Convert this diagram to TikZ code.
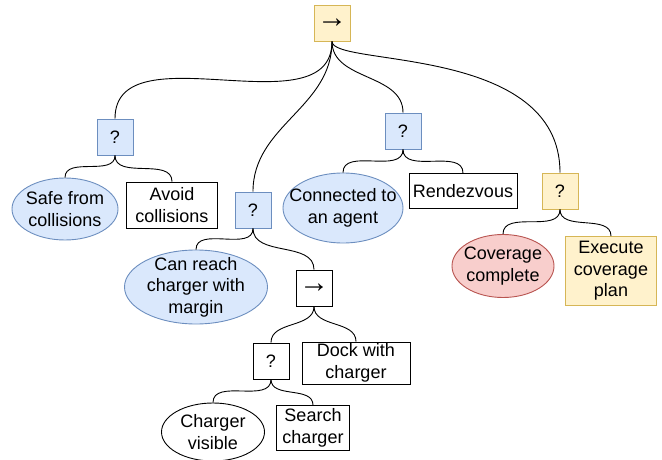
\documentclass[tikz,border=0pt]{standalone}
\usepackage{fontspec}
\setmainfont{Liberation Sans}
\usetikzlibrary{shapes.geometric}

\definecolor{yelfill}{HTML}{FFF2CC}
\definecolor{yelline}{HTML}{D6B656}
\definecolor{bluefill}{HTML}{DAE8FC}
\definecolor{blueline}{HTML}{6C8EBF}
\definecolor{redfill}{HTML}{F8CECC}
\definecolor{redline}{HTML}{B85450}

\begin{document}
\begin{tikzpicture}[x=1pt, y=1pt,
    font=\fontsize{18}{21.5}\selectfont,
    ctrl/.style={draw, rectangle, minimum size=36pt, inner sep=0pt},
    act/.style={draw, rectangle, align=center, inner sep=0pt},
    cond/.style={draw, ellipse, inner sep=0pt},
    every label/.append style={align=center, inner sep=0pt},
    yel/.style={fill=yelfill, draw=yelline},
    blu/.style={fill=bluefill, draw=blueline},
    rd/.style={fill=redfill, draw=redline},
    branch/.style={out=-90, in=90},
    line width=0.9pt]
          \useasboundingbox (0,0) rectangle (662,-460);
          % root sequence
          \node[ctrl, yel](root)   at (332,-23)  {\fontsize{30}{30}\selectfont →};
          % safety
          \node[ctrl, blu](safesel)  at (115,-137) {?};
          \node[cond, blu, minimum width=106pt, minimum height=62pt, label=center:{Safe from\\collisions}](safe) at (65,-209) {};
          \node[act, minimum width=91pt, minimum height=46pt](avoid) at (172,-205) {Avoid\\collisions};
          % charging
          \node[ctrl, blu](chargesel) at (253,-210) {?};
          \node[cond, blu, minimum width=143pt, minimum height=74pt, label=center:{Can reach\\charger with\\margin}](reach) at (196,-287) {};
          \node[ctrl](chargeseq)   at (314,-288) {\fontsize{30}{30}\selectfont →};
          \node[ctrl](findsel)     at (271,-361) {?};
          \node[act, minimum width=108pt, minimum height=42pt](dock) at (356,-363) {Dock with\\charger};
          \node[cond, minimum width=103pt, minimum height=58pt, label=center:{Charger\\visible}](visible) at (213,-432) {};
          \node[act, minimum width=73pt, minimum height=45pt](search) at (313,-428) {Search\\charger};
          % connectivity
          \node[ctrl, blu](connsel) at (403,-131) {?};
          \node[cond, blu, minimum width=120pt, minimum height=70pt, label=center:{Connected to\\an agent}](conn) at (343,-208) {};
          \node[act, minimum width=108pt, minimum height=35pt](rdv) at (463,-191) {Rendezvous};
          % coverage
          \node[ctrl, yel](covsel) at (560,-191) {?};
          \node[cond, rd, minimum width=102pt, minimum height=63pt, label=center:{Coverage\\complete}](done) at (503,-266) {};
          \node[act, yel, minimum width=91pt, minimum height=69pt](exec) at (611,-271) {Execute\\coverage\\plan};
        \path[draw]
          (root.south) edge[branch] (safesel.north)
          (root.south) edge[branch] (chargesel.north)
          (root.south) edge[branch] (connsel.north)
          (root.south) edge[branch, out looseness=0.25, in looseness=1.25] (covsel.north)
          (safesel.south) edge[branch] (safe.north)
          (safesel.south) edge[branch] (avoid.north)
          (chargesel.south) edge[branch] (reach.north)
          (chargesel.south) edge[branch] (chargeseq.north)
          (chargeseq.south) edge[branch] (findsel.north)
          (chargeseq.south) edge[branch] (dock.north)
          (findsel.south) edge[branch] (visible.north)
          (findsel.south) edge[branch] (search.north)
          (connsel.south) edge[branch] (conn.north)
          (connsel.south) edge[branch] (rdv.north)
          (covsel.south) edge[branch] (done.north)
          (covsel.south) edge[branch] (exec.north)
          ;
      \end{tikzpicture}
\end{document}
